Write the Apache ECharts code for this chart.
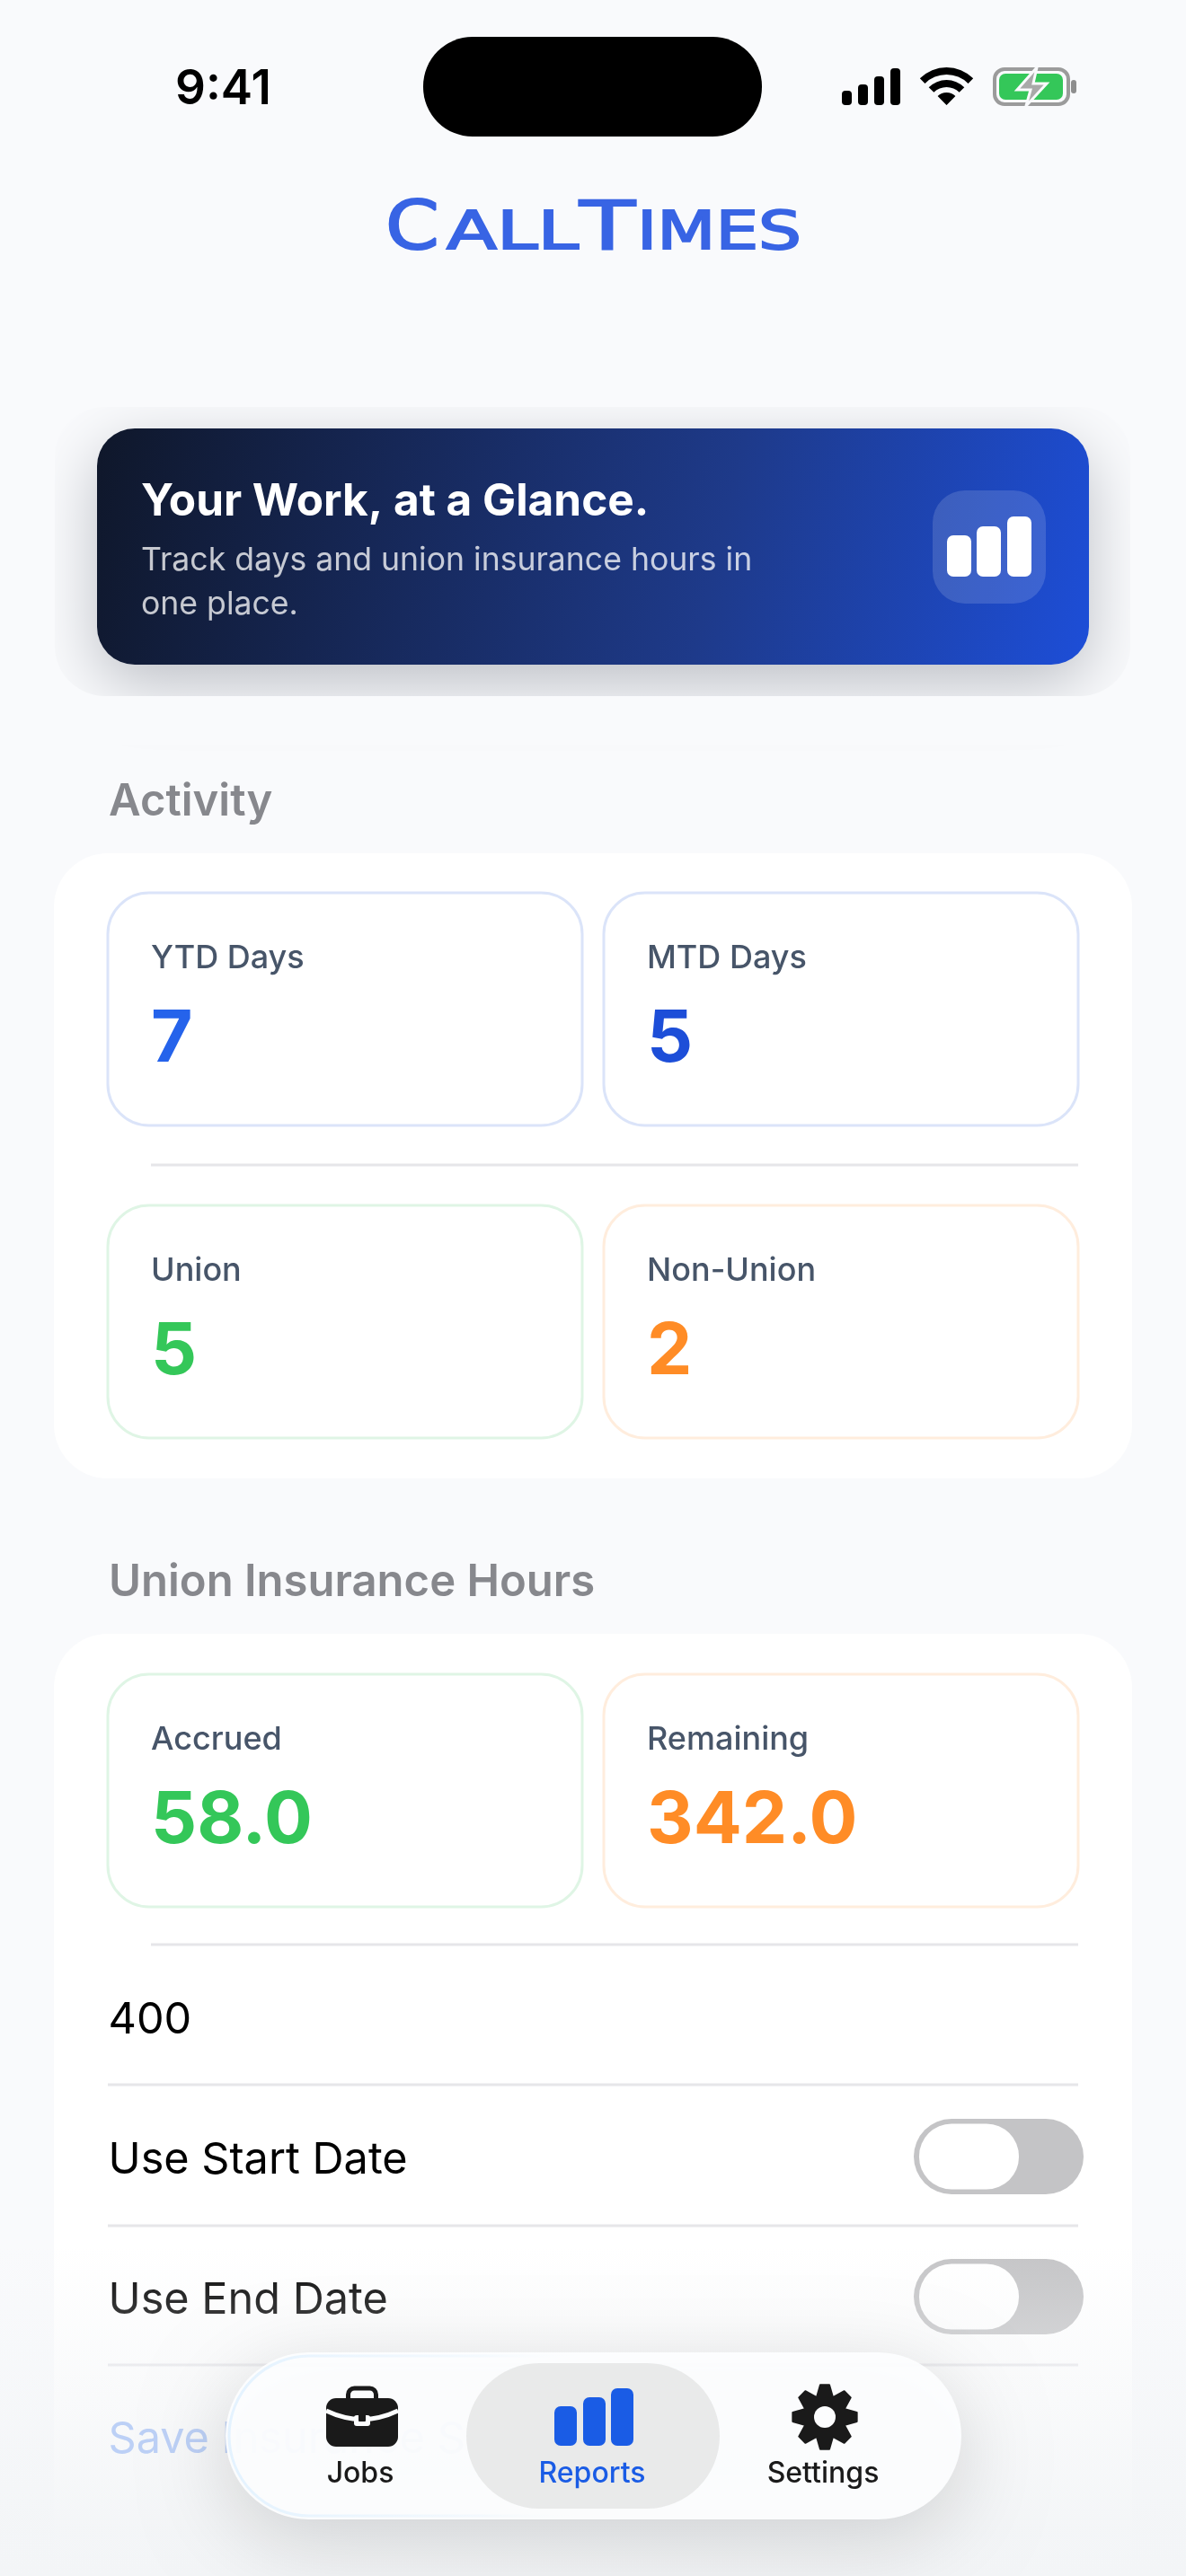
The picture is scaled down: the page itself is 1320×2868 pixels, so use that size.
<!doctype html>
<html lang="en">
<head>
    <meta charset="utf-8">
    <title>CallTimes</title>
    <script src="https://cdn.jsdelivr.net/npm/echarts@6/dist/echarts.min.js"></script>
    <style>
        html, body { margin: 0; padding: 0; background: #f9fafc; }
        #main { width: 1320px; height: 2868px; }
    </style>
</head>
<body>
<div id="main"></div>
<script>
    // screen content
    const statusTime = "9:41";
    const logoRuns = ["C", "ALL", "T", "IMES"];
    const bannerTitle = "Your Work, at a Glance.";
    const bannerLines = ["Track days and union insurance hours in", "one place."];
    const sectionTitles = ["Activity", "Union Insurance Hours"];
    const activityLabels = ["YTD Days", "MTD Days", "Union", "Non-Union"];
    const activityValues = ["7", "5", "5", "2"];
    const hoursLabels = ["Accrued", "Remaining"];
    const hoursValues = ["58.0", "342.0"];
    const insuranceTarget = "400";
    const toggleLabels = ["Use Start Date", "Use End Date"];
    const saveLabel = "Save Insurance Settings";
    const tabLabels = ["Jobs", "Reports", "Settings"];

    const FONT = "Inter, 'Noto Sans', sans-serif";
    const BG = "#f9fafc";
    const INK = "#1a1a1a";
    const BLUE = "#1a5ce5";
    const GREEN = "#34c759";
    const ORANGE = "#ff8c26";
    const els = [];

    const measureCtx = document.createElement("canvas").getContext("2d");

    // y is the text baseline
    const text = (str, x, y, size, color, weight = 400, align = "left") => {
        els.push({
            type: "text", x: x, y: y - size * 0.31,
            style: {
                text: str, fill: color, align: align, verticalAlign: "middle",
                font: weight + " " + size + "px " + FONT
            }
        });
    };
    const rect = (x, y, w, h, r, style) => {
        els.push({type: "rect", shape: {x: x, y: y, width: w, height: h, r: r}, style: style});
    };
    // graphic has no plain svg path type, so each one gets registered as a shape
    let pathCount = 0;
    const path = (d, style) => {
        const name = "svgPath" + pathCount++;
        echarts.graphic.registerShape(name, echarts.graphic.extendPath(d, {}));
        els.push({type: name, style: style});
    };
    const roundedPath = (x, y, w, h, r) => {
        return `M${x + r} ${y}A${r} ${r} 0 0 0 ${x} ${y + r}L${x} ${y + h - r}A${r} ${r} 0 0 0 ${x + r} ${y + h}` +
            `L${x + w - r} ${y + h}A${r} ${r} 0 0 0 ${x + w} ${y + h - r}L${x + w} ${y + r}A${r} ${r} 0 0 0 ${x + w - r} ${y}Z`;
    };

    // page background
    rect(0, 0, 1320, 2868, 0, {fill: BG});

    // status bar
    text(statusTime, 195, 116, 53, "#000", 600);
    rect(471, 41, 377, 111, 55, {fill: "#000"});
    [[937, 101], [955, 94], [973, 85], [991, 76]].forEach(b => rect(b[0], b[1], 11, 117 - b[1], 4, {fill: "#000"}));

    // wifi, bands around one centre
    const wifiBand = (cx, cy, r1, r0) => {
        const k = Math.SQRT1_2;
        return `M${cx - r1 * k} ${cy - r1 * k}A${r1} ${r1} 0 0 1 ${cx + r1 * k} ${cy - r1 * k}` +
            `L${cx + r0 * k} ${cy - r0 * k}A${r0} ${r0} 0 0 0 ${cx - r0 * k} ${cy - r0 * k}Z`;
    };
    path(wifiBand(1053.5, 117, 42, 34) + wifiBand(1053.5, 117, 28, 20) + wifiBand(1053.5, 117, 14, 0.1), {fill: "#000"});

    // battery
    rect(1107, 77, 82, 39, 11, {fill: "none", stroke: "#9b9b9b", lineWidth: 4});
    rect(1112, 82, 71, 29, 7, {fill: GREEN});
    rect(1192, 89, 6, 15, 3, {fill: "#8e8e8e"});
    els.push({
        type: "polygon",
        shape: {points: [[1154, 75], [1132, 100], [1147, 100], [1142, 118], [1165, 93], [1150, 93]]},
        style: {fill: "#a9a9a9", stroke: BG, lineWidth: 3}
    });

    // logo, real text squeezed to the wordmark widths
    const logoPlace = [[429, 60, 278, 75], [497, 147, 278, 59], [645, 62, 278, 75], [709, 183, 278, 59]];
    logoRuns.forEach((run, i) => {
        const p = logoPlace[i];
        const font = "400 " + p[3] + "px 'DejaVu Sans'";
        measureCtx.font = font;
        const w = measureCtx.measureText(run).width;
        els.push({
            type: "text", x: p[0], y: p[2] - p[3] * 0.27, scaleX: p[1] / w,
            style: {text: run, fill: "#3864e4", stroke: "#3864e4", lineWidth: 2, align: "left", verticalAlign: "middle", font: font}
        });
    });

    // banner with its shadow
    rect(108, 477, 1104, 263, 42, {
        fill: {
            type: "linear", x: 0, y: 0, x2: 1, y2: 1,
            colorStops: [{offset: 0, color: "#0f172a"}, {offset: 0.62, color: "#1e3a8a"}, {offset: 1, color: "#1d4ed8"}]
        },
        shadowBlur: 70, shadowOffsetY: 22, shadowColor: "rgba(15,23,42,0.26)"
    });
    // the shadow stops at a rounded box, everything outside goes back to the page colour
    path(`M0 400L1320 400L1320 830L0 830Z` + roundedPath(61, 453, 1197, 322, 56), {fill: BG});
    text(bannerTitle, 157, 574, 49.5, "#fff", 700);
    text(bannerLines[0], 157, 635, 35.6, "rgba(255,255,255,0.76)");
    text(bannerLines[1], 157, 684, 35.6, "rgba(255,255,255,0.76)");
    rect(1038, 546, 126, 126, 36, {fill: "rgba(255,255,255,0.14)"});
    [[1054, 596], [1087, 586], [1121, 575]].forEach(b => rect(b[0], b[1], 27, 642 - b[1], 7, {fill: "#fff"}));

    // section titles and cards
    text(sectionTitles[0], 121, 908, 49, "#87888d", 600);
    rect(60, 950, 1200, 696, 60, {fill: "#fff"});
    text(sectionTitles[1], 121, 1777, 49, "#87888d", 600);
    rect(60, 1819, 1200, 1100, 60, {fill: "#fff"});

    const statCard = (x, y, border, label, value, color) => {
        rect(x, y, 528, 259, 46, {fill: "#fff", stroke: border, lineWidth: 3});
        text(label, x + 48, y + 84, 36, "#475569", 500);
        text(value, x + 48, y + 189, 80, color, 700);
    };
    const BORDER_BLUE = "#dbe4f9";
    const BORDER_GREEN = "#dff5e5";
    const BORDER_ORANGE = "#ffeddd";

    statCard(120, 994, BORDER_BLUE, activityLabels[0], activityValues[0], "#2563eb");
    statCard(672, 994, BORDER_BLUE, activityLabels[1], activityValues[1], "#1d4ed8");
    rect(168, 1295.5, 1032, 3, 0, {fill: "#e6e6e9"});
    statCard(120, 1342, BORDER_GREEN, activityLabels[2], activityValues[2], GREEN);
    statCard(672, 1342, BORDER_ORANGE, activityLabels[3], activityValues[3], ORANGE);

    statCard(120, 1864, BORDER_GREEN, hoursLabels[0], hoursValues[0], GREEN);
    statCard(672, 1864, BORDER_ORANGE, hoursLabels[1], hoursValues[1], ORANGE);
    rect(168, 2163.5, 1032, 3, 0, {fill: "#e6e6e9"});

    // form rows
    text(insuranceTarget, 120.5, 2264, 48.6, "#000");
    rect(120, 2319.5, 1080, 3, 0, {fill: "#e6e6e9"});
    const toggleRow = (label, baseline, top) => {
        text(label, 120.5, baseline, 48.6, "#000");
        rect(1017, top, 189, 84, 42, {fill: "#c4c4c6"});
        rect(1023, top + 5.5, 111, 73, 36, {fill: "#fff"});
    };
    toggleRow(toggleLabels[0], 2420, 2359);
    rect(120, 2476.5, 1080, 3, 0, {fill: "#e6e6e9"});
    toggleRow(toggleLabels[1], 2576, 2515);
    rect(120, 2631.5, 1080, 3, 0, {fill: "#e6e6e9"});

    // bottom fade over the page
    rect(0, 2500, 1320, 368, 0, {
        fill: {
            type: "linear", x: 0, y: 0, x2: 0, y2: 1,
            colorStops: [{offset: 0, color: "rgba(243,245,247,0)"}, {offset: 0.85, color: "rgba(243,245,247,0.92)"}, {offset: 1, color: "rgba(243,245,247,1)"}]
        }
    });
    text(saveLabel, 120.5, 2731, 48.6, "#bcd0f6");

    // tab bar
    rect(251, 2619, 819, 186, 93, {
        fill: "rgba(252,253,254,0.96)",
        shadowBlur: 90, shadowOffsetY: 22, shadowColor: "rgba(0,0,0,0.16)"
    });
    rect(255, 2623, 811, 178, 89, {
        fill: "none", lineWidth: 3,
        stroke: {
            type: "linear", x: 0, y: 0, x2: 1, y2: 0,
            colorStops: [{offset: 0, color: "rgba(222,240,255,0.8)"}, {offset: 0.35, color: "rgba(222,240,255,0.25)"}, {offset: 0.5, color: "rgba(255,255,255,0)"}]
        }
    });
    rect(519, 2631, 282, 162, 81, {fill: "rgba(232,233,233,0.95)"});

    // jobs icon
    rect(387.5, 2659, 31, 18, 7, {fill: "none", stroke: INK, lineWidth: 5});
    rect(363, 2670, 80, 54, 11, {fill: INK});
    path("M363 2684Q403 2703 443 2684", {fill: "none", stroke: "#fcfdfe", lineWidth: 5});
    rect(394, 2689, 18, 12, 3, {fill: "#fcfdfe"});
    rect(399, 2687, 8, 9, 1, {fill: INK});

    // reports icon
    [[617, 2679], [649, 2669], [680, 2659]].forEach(b => rect(b[0], b[1], 25, 2723 - b[1], 7, {fill: BLUE}));

    // settings icon, eight teeth
    const gearPoints = [];
    for (let i = 0; i < 8; i++) {
        const a = i * Math.PI / 4 - Math.PI / 2;
        [[-0.38, 24], [-0.14, 36], [0.14, 36], [0.38, 24]].forEach(t => {
            gearPoints.push([918 + t[1] * Math.cos(a + t[0]), 2691 + t[1] * Math.sin(a + t[0])]);
        });
    }
    els.push({type: "polygon", shape: {points: gearPoints}, style: {fill: INK, stroke: INK, lineWidth: 2, lineJoin: "round"}});
    els.push({type: "circle", shape: {cx: 918, cy: 2691, r: 12}, style: {fill: "#fcfdfe"}});

    text(tabLabels[0], 401, 2764, 32, INK, 500, "center");
    text(tabLabels[1], 659, 2764, 32, BLUE, 500, "center");
    text(tabLabels[2], 916, 2764, 32, INK, 500, "center");

    const myChart = echarts.init(document.getElementById("main"), null, {renderer: "canvas"});
    myChart.setOption({animation: false, graphic: {elements: els}});
</script>
</body>
</html>
